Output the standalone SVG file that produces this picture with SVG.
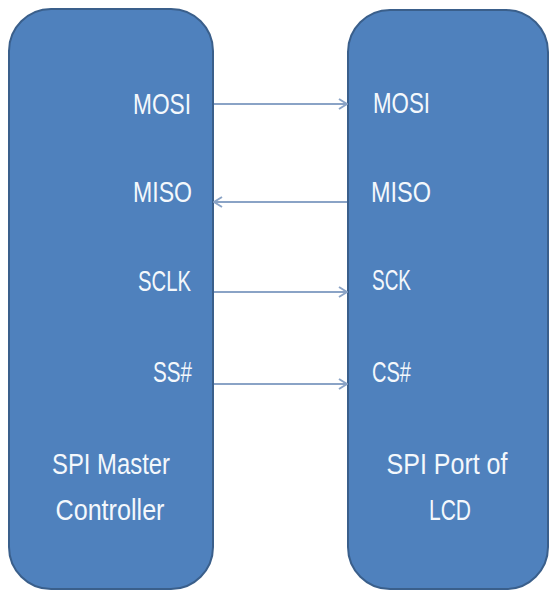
<svg xmlns="http://www.w3.org/2000/svg" width="549" height="591" viewBox="0 0 549 591">
<defs>
<style>
.box{fill:#4F81BD;stroke:#3A5F8B;stroke-width:2}
.lbl{font-family:"Liberation Sans",Arial,sans-serif;font-size:30px;fill:#F4F8FC}
.conn{stroke:#8AA3C6;stroke-width:2;fill:none}
</style>
<marker id="ah" viewBox="0 0 10 12" refX="9" refY="6" markerWidth="10" markerHeight="12" markerUnits="userSpaceOnUse" orient="auto">
<path d="M1,1 L9,6 L1,11" fill="none" stroke="#8AA3C6" stroke-width="2"/>
</marker>
</defs>
<rect width="549" height="591" fill="#FFFFFF"/>
<g id="master">
<rect class="box" x="9" y="9" width="204" height="580" rx="42" ry="42"/>
<text class="lbl" x="191" y="114" text-anchor="end" textLength="58" lengthAdjust="spacingAndGlyphs">MOSI</text>
<text class="lbl" x="192" y="202" text-anchor="end" textLength="59" lengthAdjust="spacingAndGlyphs">MISO</text>
<text class="lbl" x="191" y="291" text-anchor="end" textLength="53" lengthAdjust="spacingAndGlyphs">SCLK</text>
<text class="lbl" x="192" y="382" text-anchor="end" textLength="39" lengthAdjust="spacingAndGlyphs">SS#</text>
<text class="lbl" x="111" y="474" text-anchor="middle" textLength="118" lengthAdjust="spacingAndGlyphs">SPI Master</text>
<text class="lbl" x="110" y="520" text-anchor="middle" textLength="109" lengthAdjust="spacingAndGlyphs">Controller</text>
</g>
<g id="lcd">
<rect class="box" x="348" y="10" width="200" height="579" rx="42" ry="42"/>
<text class="lbl" x="373" y="113" textLength="57" lengthAdjust="spacingAndGlyphs">MOSI</text>
<text class="lbl" x="371" y="202" textLength="60" lengthAdjust="spacingAndGlyphs">MISO</text>
<text class="lbl" x="372" y="290" textLength="39" lengthAdjust="spacingAndGlyphs">SCK</text>
<text class="lbl" x="372" y="382" textLength="39" lengthAdjust="spacingAndGlyphs">CS#</text>
<text class="lbl" x="447" y="474" text-anchor="middle" textLength="121" lengthAdjust="spacingAndGlyphs">SPI Port of</text>
<text class="lbl" x="450" y="520" text-anchor="middle" textLength="42" lengthAdjust="spacingAndGlyphs">LCD</text>
</g>
<g id="connectors">
<line class="conn" x1="214" y1="104" x2="347" y2="104" marker-end="url(#ah)"/>
<line class="conn" x1="347" y1="202" x2="214" y2="202" marker-end="url(#ah)"/>
<line class="conn" x1="214" y1="292" x2="347" y2="292" marker-end="url(#ah)"/>
<line class="conn" x1="214" y1="384" x2="347" y2="384" marker-end="url(#ah)"/>
</g>
</svg>
